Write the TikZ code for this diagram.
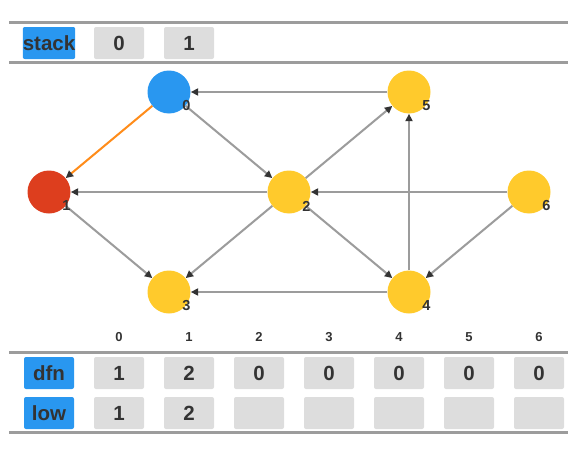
\documentclass[tikz,border=0pt]{standalone}
\usepackage{fontspec}
\setmainfont{Liberation Sans}
\usetikzlibrary{arrows.meta,calc}
\definecolor{cblue}{HTML}{2997F0}
\definecolor{cred}{HTML}{DD3E1E}
\definecolor{cyel}{HTML}{FFCA2C}
\definecolor{corange}{HTML}{FF8C1A}
\definecolor{cline}{HTML}{9C9C9C}
\definecolor{cbox}{HTML}{DDDDDD}
\definecolor{ctext}{HTML}{333333}
\begin{document}
\begin{tikzpicture}[x=1pt,y=-1pt,
  vert/.style={circle,minimum size=43pt,inner sep=0pt},
  vlab/.style={font=\fontsize{14.5}{14.5}\selectfont\bfseries,text=ctext,inner sep=0pt},
  idx/.style={font=\fontsize{13}{13}\selectfont\bfseries,text=ctext,inner sep=0pt},
  edge/.style={draw=cline,line width=2pt,-{Triangle[length=7.5pt,width=7pt,color=ctext]}},
  rule/.style={draw=cline,line width=2.2pt},
  cell/.style={fill=cbox,rounded corners=2pt,minimum width=50pt,minimum height=32pt,inner sep=0pt,
    font=\fontsize{20.5}{20.5}\selectfont\bfseries,text=ctext},
  head/.style={cell,fill=cblue}
]
\useasboundingbox (0,0) rectangle (584,455);
% rules
\coordinate (r1a) at (9,22.5);  \coordinate (r1b) at (568,22.5);
\coordinate (r2a) at (9,62.5);  \coordinate (r2b) at (568,62.5);
\coordinate (r3a) at (9,352.5); \coordinate (r3b) at (568,352.5);
\coordinate (r4a) at (9,432.5); \coordinate (r4b) at (568,432.5);
\draw[rule] (r1a) -- (r1b);
\draw[rule] (r2a) -- (r2b);
\draw[rule] (r3a) -- (r3b);
\draw[rule] (r4a) -- (r4b);
% stack
\node[head] (stk) at (49,43) {stack};
\node[cell] (s0) at (119,43) {0};
\node[cell] (s1) at (189,43) {1};
% graph nodes
\node[vert,fill=cblue] (n0) at (169,92) {};
\node[vert,fill=cyel] (n5) at (409,92) {};
\node[vert,fill=cred] (n1) at (49,192) {};
\node[vert,fill=cyel] (n2) at (289,192) {};
\node[vert,fill=cyel] (n6) at (529,192) {};
\node[vert,fill=cyel] (n3) at (169,292) {};
\node[vert,fill=cyel] (n4) at (409,292) {};
% edges
\draw[edge] (n5) -- (n0);
\draw[edge,draw=corange] (n0) -- (n1);
\draw[edge] (n0) -- (n2);
\draw[edge] (n2) -- (n5);
\draw[edge] (n2) -- (n1);
\draw[edge] (n6) -- (n2);
\draw[edge] (n2) -- (n3);
\draw[edge] (n2) -- (n4);
\draw[edge] (n6) -- (n4);
\draw[edge] (n4) -- (n5);
\draw[edge] (n4) -- (n3);
\draw[edge] (n1) -- (n3);
% node labels
\foreach \n in {0,...,6}{
  \node[vlab] (l\n) at ($(n\n)+(17.5,14)$) {\n};
}
% table
\node[head] (dfn) at (49,373) {dfn};
\node[head] (low) at (49,413) {low};
\foreach \i/\d/\l in {0/1/1,1/2/2,2/0/,3/0/,4/0/,5/0/,6/0/}{
  \node[idx] (i\i) at (119+70*\i,337) {\i};
  \node[cell] (d\i) at (119+70*\i,373) {\d};
  \node[cell] (w\i) at (119+70*\i,413) {\l};
}
\end{tikzpicture}
\end{document}
